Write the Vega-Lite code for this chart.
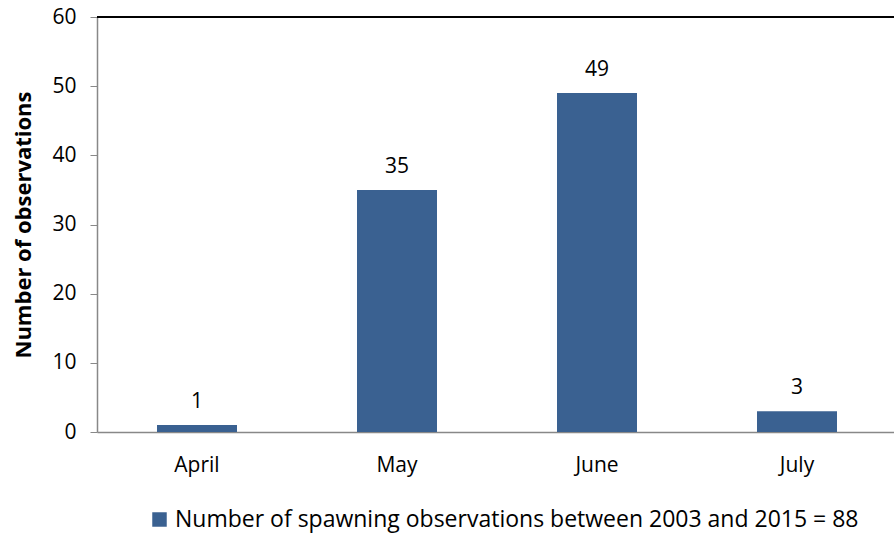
{
  "$schema": "https://vega.github.io/schema/vega-lite/v6.json",
  "width": 800,
  "height": 415,
  "autosize": {"type": "none"},
  "padding": {"left": 97, "top": 17, "right": 0, "bottom": 106},
  "background": "white",
  "config": {
    "view": {"stroke": null},
    "font": "Open Sans",
    "axis": {"labelFont": "Open Sans", "titleFont": "Open Sans", "labelColor": "#000000", "titleColor": "#000000"},
    "legend": {"labelFont": "Open Sans"}
  },
  "data": {
    "values": [
      {"month": "April", "count": 1, "series": "Number of spawning observations between 2003 and 2015 = 88"},
      {"month": "May", "count": 35, "series": "Number of spawning observations between 2003 and 2015 = 88"},
      {"month": "June", "count": 49, "series": "Number of spawning observations between 2003 and 2015 = 88"},
      {"month": "July", "count": 3, "series": "Number of spawning observations between 2003 and 2015 = 88"}
    ]
  },
  "layer": [
    {
      "mark": {"type": "rule", "color": "#000000", "strokeWidth": 1.5},
      "encoding": {"y": {"datum": 60, "type": "quantitative", "scale": {"domain": [0, 60]}}}
    },
    {
      "mark": {"type": "bar", "color": "#3A6191"},
      "encoding": {
        "x": {
          "field": "month", "type": "nominal", "sort": ["April", "May", "June", "July"],
          "scale": {"paddingInner": 0.6, "paddingOuter": 0.3},
          "axis": {"title": null, "labelAngle": 0, "ticks": false, "labelPadding": 22, "labelFontSize": 21,
                   "domainColor": "#888888", "domainWidth": 1.5, "grid": false}
        },
        "y": {
          "field": "count", "type": "quantitative", "scale": {"domain": [0, 60]},
          "axis": {"title": "Number of observations", "values": [0, 10, 20, 30, 40, 50, 60], "grid": false,
                   "labelFontSize": 21, "titleFontSize": 22, "titleFontWeight": "bold",
                   "tickSize": 7, "tickColor": "#888888", "domainColor": "#888888", "domainWidth": 1.5,
                   "labelPadding": 14, "titlePadding": 16}
        },
        "color": {
          "field": "series", "type": "nominal",
          "scale": {"range": ["#3A6191"]},
          "legend": {"title": null, "orient": "none", "legendX": 51, "legendY": 491,
                     "symbolType": "square", "symbolSize": 210, "labelFontSize": 23, "labelLimit": 800,
                     "symbolOpacity": 1, "labelColor": "#000000"}
        }
      }
    },
    {
      "mark": {"type": "text", "baseline": "bottom", "dy": -13, "fontSize": 21, "color": "#000000"},
      "encoding": {
        "x": {"field": "month", "type": "nominal", "sort": ["April", "May", "June", "July"]},
        "y": {"field": "count", "type": "quantitative"},
        "text": {"field": "count", "type": "quantitative"}
      }
    }
  ]
}
